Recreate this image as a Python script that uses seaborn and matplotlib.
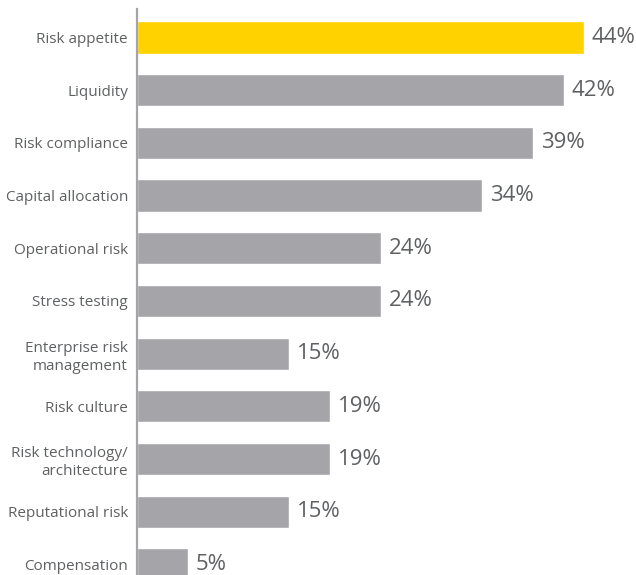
import matplotlib
matplotlib.use("Agg")
import matplotlib.pyplot as plt
import seaborn as sns
import pandas as pd

categories = [
    "Risk appetite",
    "Liquidity",
    "Risk compliance",
    "Capital allocation",
    "Operational risk",
    "Stress testing",
    "Enterprise risk\nmanagement",
    "Risk culture",
    "Risk technology/\narchitecture",
    "Reputational risk",
    "Compensation",
]
values = [44, 42, 39, 34, 24, 24, 15, 19, 19, 15, 5]
highlight = "Risk appetite"

GRAY = "#A5A4A9"
YELLOW = "#FFD200"
TEXT = "#5F6062"

sns.set_theme(style="white")
plt.rcParams["font.family"] = ["Open Sans", "DejaVu Sans"]

df = pd.DataFrame({"topic": categories, "share": values})
palette = {c: (YELLOW if c == highlight else GRAY) for c in categories}

W, H, DPI = 636, 575, 100
fig = plt.figure(figsize=(W / DPI, H / DPI), dpi=DPI)
ax = fig.add_axes([137 / W, 0, (W - 137) / W, 566 / H])

sns.barplot(data=df, x="share", y="topic", hue="topic", palette=palette,
            legend=False, width=0.61, saturation=1, ax=ax, orient="h")

ax.set_xlim(0, (W - 137) / 10.16)
ax.set_ylim(10.2, -0.54)

for container in ax.containers:
    ax.bar_label(container, labels=[f"{v:.0f}%" for v in container.datavalues],
                 padding=5.5, fontsize=16, color=TEXT)

ax.set_xlabel("")
ax.set_ylabel("")
ax.set_xticks([])
ax.tick_params(axis="y", length=0, pad=6.5, labelsize=11, labelcolor=TEXT)
for lbl in ax.get_yticklabels():
    lbl.set_horizontalalignment("right")
    lbl.set_multialignment("right")
    lbl.set_linespacing(1.3)

for side in ("top", "right", "bottom"):
    ax.spines[side].set_visible(False)
ax.spines["left"].set_color("#A5A4A9")
ax.spines["left"].set_linewidth(1.6)

fig.savefig("out.png", dpi=DPI, facecolor="white")
